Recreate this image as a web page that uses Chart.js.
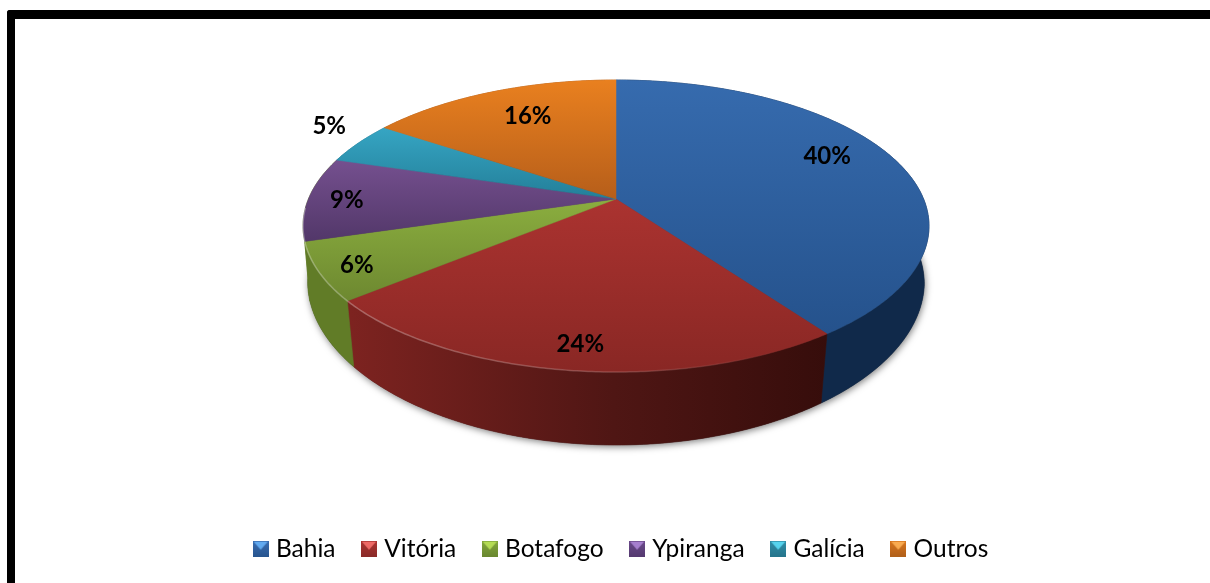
<!DOCTYPE html>
<html>
<head>
<meta charset="utf-8">
<title>Torcidas</title>
<script src="https://cdn.jsdelivr.net/npm/chart.js@4"></script>
<style>
  html, body { margin: 0; background: #fff; overflow: hidden; }
  #frame { position: absolute; left: 7px; top: 10px; width: 1210px; height: 600px; border-top: 9px solid #000; border-left: 8px solid #000; border-top-left-radius: 3px; }
  canvas { position: absolute; left: 0; top: 0; }
</style>
</head>
<body>
<div id="frame"></div>
<canvas id="pie" width="1210" height="583"></canvas>
<script>
const categorias = ["Bahia", "Vitória", "Botafogo", "Ypiranga", "Galícia", "Outros"];
const valores = [40.1, 23.9, 6.4, 9.3, 4.7, 15.6];

// cor do topo (claro, escuro), da lateral (esq, meio, dir) e da legenda
const topoClaro = ["#366bae", "#ab3330", "#8bae3f", "#75508f", "#36a5c3", "#e9801f"];
const topoEscuro = ["#25528c", "#892724", "#6d8830", "#523769", "#237f99", "#b65e1a"];
const lateralEsq = ["#10294a", "#7d2320", "#617c27", "#617c27", "#1f6f86", "#a05317"];
const lateralMeio = ["#10294a", "#4f1614", "#5c7625", "#5c7625", "#1f6f86", "#a05317"];
const lateralDir = ["#10294a", "#360d0b", "#566f22", "#566f22", "#1f6f86", "#a05317"];
const legendaClaro = ["#62aaf0", "#ee6a66", "#b5dc55", "#a67fce", "#56d4ee", "#f9ab50"];
const legendaMeio = ["#3a6db2", "#ad3532", "#84a83c", "#6c4a8c", "#308fa9", "#d9761d"];
const legendaEscuro = ["#28558f", "#8a2a28", "#6a8830", "#553a70", "#26758c", "#b0601a"];

// posição dos rótulos: raio e giro em graus em relação ao meio da fatia
const rotuloRaio = [0.8, 0.865, 0.885, 0.875, 1.185, 0.744];
const rotuloGiro = [-6.6, -0.9, -0.6, -0.2, 4, 2.4];

// perspectiva do disco
const cx = 616, cy = 199, escalaX = 307.6, escalaY = 141, fuga = -0.185;

function projeta(raio, ang) {
  const u = raio * Math.cos(ang), v = raio * Math.sin(ang);
  const d = 1 + fuga * v;
  return [cx + escalaX * u / d, cy + escalaY * v / d];
}

// borda de baixo da lateral
function desce(p) {
  const sx = 0.985 - Math.max(0, p[1] - 226) * 0.00012;
  return [cx + (p[0] - cx) * sx, p[1] + 73 + (p[1] - 372) * 0.1];
}

function arco(ini, fim) {
  const n = Math.max(2, Math.ceil((fim - ini) / 0.01));
  const pts = [];
  for (let i = 0; i <= n; i++) pts.push(projeta(1, ini + (fim - ini) * i / n));
  return pts;
}

const pizza3d = {
  id: "pizza3d",
  beforeDatasetDraw() { return false; },
  afterDatasetsDraw(chart) {
    const ctx = chart.ctx;
    const fatias = chart.getDatasetMeta(0).data;

    // sombra
    ctx.save();
    ctx.shadowColor = "rgba(0,0,0,0.5)";
    ctx.shadowBlur = 7;
    ctx.shadowOffsetX = 1;
    ctx.shadowOffsetY = 2;
    ctx.fillStyle = "#333";
    ctx.beginPath();
    arco(0, Math.PI * 2).map(desce).forEach(p => ctx.lineTo(p[0], p[1]));
    ctx.closePath();
    ctx.fill();
    ctx.restore();

    // laterais
    fatias.forEach((f, i) => {
      const pts = arco(f.startAngle, f.endAngle);
      const g = ctx.createLinearGradient(350, 0, 830, 0);
      g.addColorStop(0, lateralEsq[i]);
      g.addColorStop(0.55, lateralMeio[i]);
      g.addColorStop(1, lateralDir[i]);
      ctx.fillStyle = g;
      ctx.strokeStyle = g;
      ctx.lineWidth = 0.6;
      ctx.beginPath();
      pts.forEach(p => ctx.lineTo(p[0], p[1]));
      pts.slice().reverse().map(desce).forEach(p => ctx.lineTo(p[0], p[1]));
      ctx.closePath();
      ctx.fill();
      ctx.stroke();
    });

    // topo
    fatias.forEach((f, i) => {
      const pts = arco(f.startAngle, f.endAngle);
      const ys = pts.map(p => p[1]).concat(cy);
      const g = ctx.createLinearGradient(0, Math.min(...ys), 0, Math.max(...ys));
      g.addColorStop(0, topoClaro[i]);
      g.addColorStop(1, topoEscuro[i]);
      ctx.fillStyle = g;
      ctx.strokeStyle = g;
      ctx.lineWidth = 0.5;
      ctx.beginPath();
      ctx.moveTo(cx, cy);
      pts.forEach(p => ctx.lineTo(p[0], p[1]));
      ctx.closePath();
      ctx.fill();
      ctx.stroke();
    });

    // brilho na borda da frente
    const brilho = ctx.createLinearGradient(305, 0, 780, 0);
    brilho.addColorStop(0, "rgba(255,255,255,0.3)");
    brilho.addColorStop(0.6, "rgba(255,255,255,0.18)");
    brilho.addColorStop(1, "rgba(255,255,255,0)");
    ctx.strokeStyle = brilho;
    ctx.lineWidth = 1.5;
    ctx.beginPath();
    arco(Math.PI * 0.2, Math.PI * 0.98).forEach(p => ctx.lineTo(p[0], p[1]));
    ctx.stroke();

    // rótulos
    ctx.fillStyle = "#000";
    ctx.font = "bold 24px Lato";
    ctx.textAlign = "center";
    ctx.textBaseline = "middle";
    fatias.forEach((f, i) => {
      const meio = (f.startAngle + f.endAngle) / 2 + rotuloGiro[i] * Math.PI / 180;
      const p = projeta(rotuloRaio[i], meio);
      ctx.fillText(valores[i].toFixed(0) + "%", p[0], p[1] + 1);
    });
  }
};

function iconeLegenda(i) {
  const c = document.createElement("canvas");
  c.width = 16;
  c.height = 16;
  const x = c.getContext("2d");
  const g = x.createLinearGradient(0, 0, 0, 16);
  g.addColorStop(0, legendaMeio[i]);
  g.addColorStop(1, legendaEscuro[i]);
  x.fillStyle = g;
  x.fillRect(0, 0, 16, 16);
  x.fillStyle = legendaClaro[i];
  x.beginPath();
  x.moveTo(1, 1);
  x.lineTo(15, 1);
  x.lineTo(8, 9);
  x.closePath();
  x.fill();
  return c;
}

new Chart(document.getElementById("pie"), {
  type: "pie",
  data: {
    labels: categorias,
    datasets: [{ data: valores, backgroundColor: legendaMeio, borderWidth: 0 }]
  },
  options: {
    responsive: false,
    animation: false,
    layout: { padding: { bottom: 12, left: 36 } },
    plugins: {
      tooltip: { enabled: false },
      legend: {
        position: "bottom",
        labels: {
          usePointStyle: true,
          boxWidth: 6,
          boxHeight: 16,
          padding: 30.5,
          color: "#000",
          font: { family: "Lato", size: 24.5 },
          generateLabels: chart => categorias.map((nome, i) => ({
            text: nome,
            pointStyle: iconeLegenda(i),
            fillStyle: legendaMeio[i],
            strokeStyle: legendaMeio[i],
            lineWidth: 0,
            hidden: false,
            index: i
          }))
        }
      }
    }
  },
  plugins: [pizza3d]
});
</script>
</body>
</html>
